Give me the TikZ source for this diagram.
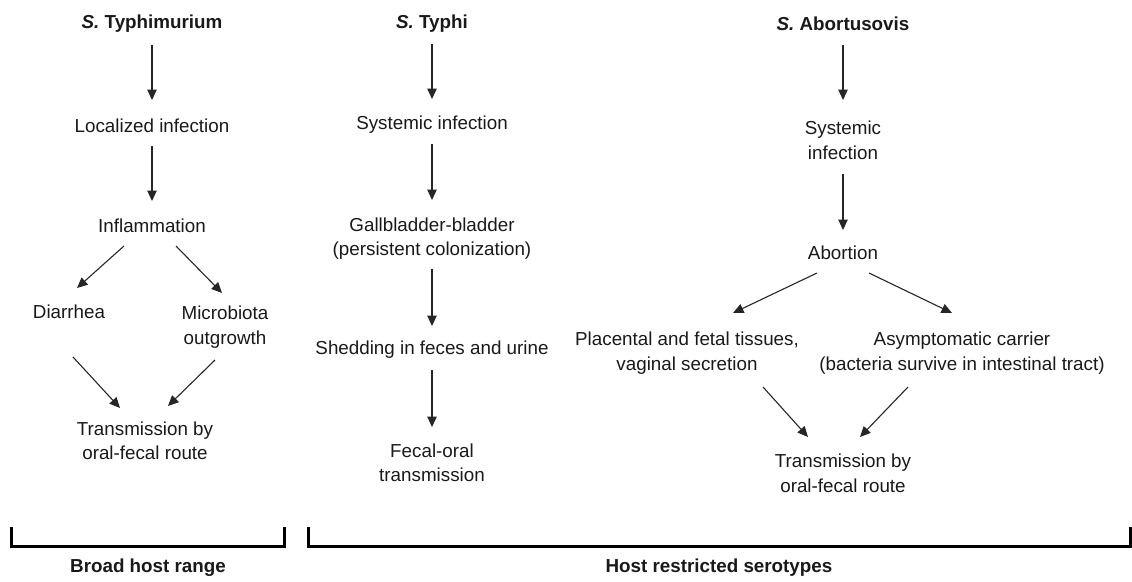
\documentclass[tikz,border=0pt]{standalone}
\usepackage{fontspec}
\setmainfont{Liberation Sans}
\usetikzlibrary{arrows.meta}
\begin{document}
\begin{tikzpicture}[x=1pt,y=-1pt,
  lbl/.style={inner sep=0pt,align=center,text=black!90,font=\fontsize{18.8}{24.5}\selectfont},
  ttl/.style={lbl,font=\fontsize{18.8}{24.5}\selectfont\bfseries},
  arr/.style={draw=black!85,line width=1.1pt,-{Triangle[length=10.5pt,width=9.5pt]}},
  brk/.style={draw=black,line width=3pt}]
\useasboundingbox (0,0) rectangle (1132,581);
% column 1
\node[ttl] (t1) at (152,24) {\textit{S.} Typhimurium};
\node[lbl] (l1) at (152,126) {Localized infection};
\node[lbl] (i1) at (152,226) {Inflammation};
\node[lbl] (d1) at (69,312) {Diarrhea};
\node[lbl] (m1) at (225,327) {Microbiota\\outgrowth};
\node[lbl] (tr1) at (145,441) {Transmission by\\oral-fecal route};
\draw[arr] ([shift={(0,21)}]t1.center) -- ([shift={(0,-26)}]l1.center);
\draw[arr] ([shift={(0,20)}]l1.center) -- ([shift={(0,-25)}]i1.center);
\draw[arr] ([shift={(-28,20)}]i1.center) -- ([shift={(8,-24)}]d1.center);
\draw[arr] ([shift={(24,20)}]i1.center) -- ([shift={(-3,-34)}]m1.center);
\draw[arr] ([shift={(4,45)}]d1.center) -- ([shift={(-25,-33)}]tr1.center);
\draw[arr] ([shift={(-10,33)}]m1.center) -- ([shift={(23,-35)}]tr1.center);
% column 2
\node[ttl] (t2) at (432,24) {\textit{S.} Typhi};
\node[lbl] (s2) at (432,125) {Systemic infection};
\node[lbl] (g2) at (432,238.5) {Gallbladder-bladder\\(persistent colonization)};
\node[lbl] (sh2) at (432,350) {Shedding in feces and urine};
\node[lbl] (f2) at (432,463) {Fecal-oral\\transmission};
\draw[arr] ([shift={(0,20)}]t2.center) -- ([shift={(0,-26)}]s2.center);
\draw[arr] ([shift={(0,19)}]s2.center) -- ([shift={(0,-38.5)}]g2.center);
\draw[arr] ([shift={(0,30.5)}]g2.center) -- ([shift={(0,-24)}]sh2.center);
\draw[arr] ([shift={(0,20)}]sh2.center) -- ([shift={(0,-36)}]f2.center);
% column 3
\node[ttl] (t3) at (843,24) {\textit{S.} Abortusovis};
\node[lbl] (s3) at (843,140.5) {Systemic\\infection};
\node[lbl] (a3) at (843,253) {Abortion};
\node[lbl] (p3) at (687,353) {Placental and fetal tissues,\\vaginal secretion};
\node[lbl] (as3) at (962,353) {Asymptomatic carrier\\(bacteria survive in intestinal tract)};
\node[lbl] (tr3) at (843,473.5) {Transmission by\\oral-fecal route};
\draw[arr] ([shift={(0,21)}]t3.center) -- ([shift={(0,-40.5)}]s3.center);
\draw[arr] ([shift={(0,33.5)}]s3.center) -- ([shift={(0,-23)}]a3.center);
\draw[arr] ([shift={(-26,20)}]a3.center) -- ([shift={(46,-40)}]p3.center);
\draw[arr] ([shift={(26,20)}]a3.center) -- ([shift={(-10,-40)}]as3.center);
\draw[arr] ([shift={(76,34)}]p3.center) -- ([shift={(-35,-36.5)}]tr3.center);
\draw[arr] ([shift={(-54,34)}]as3.center) -- ([shift={(17,-36.5)}]tr3.center);
% brackets
\draw[brk] (11,527) -- (11,546) -- (284,546) -- (284,527);
\draw[brk] (308,527) -- (308,546) -- (1130,546) -- (1130,527);
\node[ttl] (b1) at (148,568) {Broad host range};
\node[ttl] (b2) at (719,568) {Host restricted serotypes};
\end{tikzpicture}
\end{document}
